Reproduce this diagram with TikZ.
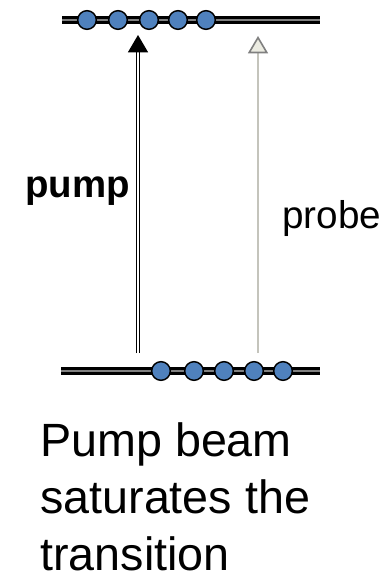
\documentclass[tikz,border=0pt]{standalone}
\usepackage{fontspec}
\setmainfont{Liberation Sans}
\usetikzlibrary{arrows.meta,positioning}
\definecolor{atomblue}{RGB}{79,129,189}
\definecolor{probegray}{RGB}{196,196,188}
\definecolor{probehead}{RGB}{236,236,226}

\begin{document}
\begin{tikzpicture}[x=0.75pt,y=-0.75pt,>=Triangle,
 level/.style={draw=black,line width=2.6pt,double=gray,double distance=1pt},
 atom/.style={circle,draw=black,fill=atomblue,line width=1.1pt,minimum size=14pt,inner sep=0pt},
 pumparrow/.style={draw=black,line width=0.9pt,double=white,double distance=0.9pt,-{Triangle[width=15pt,length=13pt]}},
 probearrow/.style={draw=probegray,line width=1.2pt,-{Triangle[width=15pt,length=13pt,fill=probehead,color=gray]}},
 every node/.style={inner sep=0pt}]
\useasboundingbox (0,0) rectangle (383,577);
\coordinate (upL) at (62,20);
\coordinate (upR) at (320,20);
\coordinate (lowL) at (61,371);
\coordinate (lowR) at (320,371);
\draw[level] (upL) -- (upR);
\draw[level] (lowL) -- (lowR);
\foreach \x [count=\i] in {87,118,149,178,206}
  \node[atom] (up\i) at (\x,20) {};
\foreach \x [count=\i] in {161,194,224,254,283}
  \node[atom] (low\i) at (\x,371) {};
\coordinate (pumpS) at (138,353);
\coordinate (pumpE) at (138,35);
\coordinate (probeS) at (258,353);
\coordinate (probeE) at (258,36);
\draw[pumparrow] (pumpS) -- (pumpE);
\draw[probearrow] (probeS) -- (probeE);
\node[anchor=base west,font=\fontsize{28.8}{33}\selectfont\bfseries] (pumplab) at (25,198) {pump};
\node[anchor=base west,font=\fontsize{29}{33}\selectfont] (probelab) at (282,228) {probe};
\node[anchor=base west,align=left,font=\fontsize{35}{42.75}\selectfont] (caption) at (40,570)
  {Pump beam\\saturates the\\transition};
\end{tikzpicture}
\end{document}
